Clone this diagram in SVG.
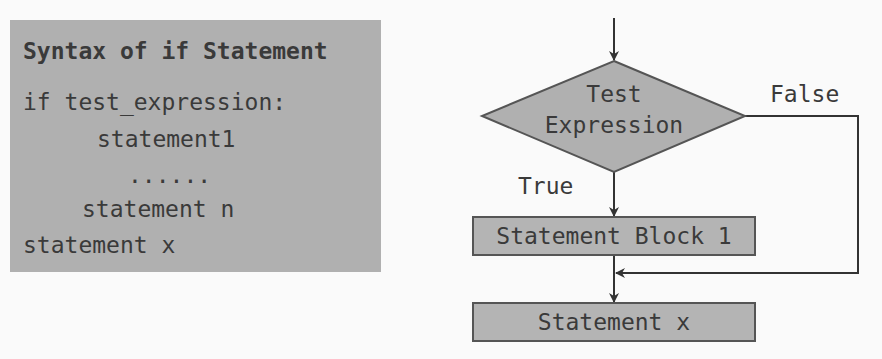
<svg xmlns="http://www.w3.org/2000/svg" width="882" height="359" viewBox="0 0 882 359">
<defs>
<style>
.t{font-family:"DejaVu Sans Mono","Liberation Mono",monospace;font-size:23px;fill:#3a3a3a}
.c{text-anchor:middle}
.ln{fill:none;stroke:#333;stroke-width:2}
.box{fill:#b4b4b4;stroke:#555;stroke-width:2}
</style>
<marker id="ah" viewBox="0 0 10 10" refX="9" refY="5" markerWidth="10" markerHeight="10" markerUnits="userSpaceOnUse" orient="auto">
<path d="M0,0 L10,5 L0,10 L3,5 Z" fill="#333"/>
</marker>
</defs>
<rect width="882" height="359" fill="#fafafa"/>
<g id="syntax">
<rect x="10" y="20" width="371" height="252" fill="#b0b0b0"/>
<text class="t" x="23" y="59" font-weight="bold">Syntax of if Statement</text>
<text class="t" x="23" y="110">if test_expression:</text>
<text class="t" x="97" y="147">statement1</text>
<text class="t" x="128" y="183">......</text>
<text class="t" x="82" y="217">statement n</text>
<text class="t" x="23" y="253">statement x</text>
</g>
<g id="connectors">
<line class="ln" x1="614" y1="18" x2="614" y2="60" marker-end="url(#ah)"/>
<line class="ln" x1="614" y1="172" x2="614" y2="216" marker-end="url(#ah)"/>
<polyline class="ln" points="745,116 858,116 858,273 616,273" marker-end="url(#ah)"/>
<line class="ln" x1="614" y1="255" x2="614" y2="302" marker-end="url(#ah)"/>
<text class="t" x="770" y="102">False</text>
<text class="t" x="518" y="194">True</text>
</g>
<g id="test">
<polygon points="614,61 745,116 614,172 482,116" fill="#b0b0b0" stroke="#555" stroke-width="2"/>
<text class="t c" x="614" y="102">Test</text>
<text class="t c" x="614" y="133">Expression</text>
</g>
<g id="block1">
<rect class="box" x="473" y="217" width="282" height="38"/>
<text class="t c" x="614" y="244">Statement Block 1</text>
</g>
<g id="stmtx">
<rect class="box" x="473" y="303" width="282" height="38"/>
<text class="t c" x="614" y="330">Statement x</text>
</g>
</svg>
